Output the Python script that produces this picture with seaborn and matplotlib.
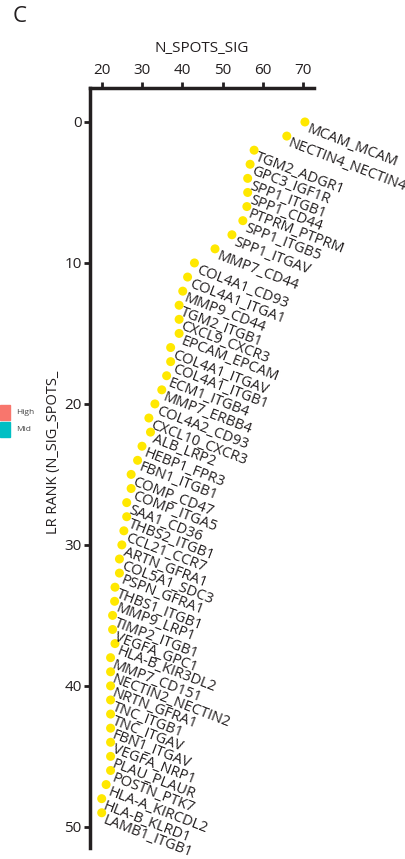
import pandas as pd
import matplotlib.pyplot as plt
import seaborn as sns
import numpy as np

sns.set_theme(style="white")
plt.rcParams['font.family'] = ['Open Sans', 'DejaVu Sans']

# LR pairs, in rank order
lr_pairs = [
    'MCAM_MCAM', 'NECTIN4_NECTIN4', 'TGM2_ADGR1', 'GPC3_IGF1R', 'SPP1_ITGB1',
    'SPP1_CD44', 'PTPRM_PTPRM', 'SPP1_ITGB5', 'SPP1_ITGAV', 'MMP7_CD44',
    'COL4A1_CD93', 'COL4A1_ITGA1', 'MMP9_CD44', 'TGM2_ITGB1', 'CXCL9_CXCR3',
    'EPCAM_EPCAM', 'COL4A1_ITGAV', 'COL4A1_ITGB1', 'ECM1_ITGB4', 'MMP7_ERBB4',
    'COL4A2_CD93', 'CXCL10_CXCR3', 'ALB_LRP2', 'HEBP1_FPR3', 'FBN1_ITGB1',
    'COMP_CD47', 'COMP_ITGA5', 'SAA1_CD36', 'THBS2_ITGB1', 'CCL21_CCR7',
    'ARTN_GFRA1', 'COL5A1_SDC3', 'PSPN_GFRA1', 'THBS1_ITGB1', 'MMP9_LRP1',
    'TIMP2_ITGB1', 'VEGFA_GPC1', 'HLA-B_KIR3DL2', 'MMP7_CD151', 'NECTIN2_NECTIN2',
    'NRTN_GFRA1', 'TNC_ITGB1', 'TNC_ITGAV', 'FBN1_ITGAV', 'VEGFA_NRP1',
    'PLAU_PLAUR', 'POSTN_PTK7', 'HLA-A_KIRCDL2', 'HLA-B_KLRD1', 'LAMB1_ITGB1',
]
n_spots_sig = [
    70.4, 65.9, 57.8, 56.8, 56.2, 56.2, 56.0, 55.0, 52.3, 48.1,
    43.0, 41.3, 40.1, 39.2, 39.2, 39.2, 37.1, 37.1, 36.1, 34.9,
    33.2, 31.7, 32.1, 30.0, 28.9, 27.3, 27.3, 26.2, 26.2, 25.5,
    25.0, 24.4, 24.4, 23.3, 23.2, 22.7, 22.7, 23.3, 22.2, 22.2,
    22.2, 22.2, 22.2, 22.2, 22.2, 22.2, 22.2, 21.1, 20.0, 20.0,
]
lr_rank = list(range(len(lr_pairs)))

legend_labels = ['High', 'Mid']
legend_colors = ['#F8766D', '#00BFC4']

df = pd.DataFrame({'lr': lr_pairs, 'N_SPOTS_SIG': n_spots_sig, 'rank': lr_rank})

W, H = 406, 859
fig = plt.figure(figsize=(W / 100, H / 100), dpi=100)
ax = fig.add_axes([90 / W, 1 - 848 / H, (314 - 90) / W, (848 - 88) / H])

sns.scatterplot(data=df, x='N_SPOTS_SIG', y='rank', color='#FFE800',
                s=42, edgecolor='none', ax=ax, zorder=3)

for _, row in df.iterrows():
    ax.annotate(row['lr'], xy=(row['N_SPOTS_SIG'], row['rank']),
                xytext=(3.5, 0), textcoords='offset points',
                ha='left', va='top', rotation=-21, rotation_mode='anchor',
                fontsize=10.5, color='#231f20', annotation_clip=False)

ax.set_xlim(17.1, 72.65)
ax.set_ylim(51.5, -2.41)
ax.set_xticks([20, 30, 40, 50, 60, 70])
ax.set_yticks([0, 10, 20, 30, 40, 50])

ax.xaxis.tick_top()
ax.xaxis.set_label_position('top')
ax.set_xlabel('N_SPOTS_SIG', fontsize=11, color='#231f20', labelpad=8)
ax.set_ylabel('')

for side in ['right', 'bottom']:
    ax.spines[side].set_visible(False)
for side in ['left', 'top']:
    ax.spines[side].set_linewidth(2.5)
    ax.spines[side].set_color('#231f20')

ax.tick_params(axis='both', length=4, width=2, color='#231f20',
               labelsize=11, labelcolor='#231f20', direction='out')
ax.tick_params(axis='x', top=True, bottom=False, pad=3)
ax.tick_params(axis='y', left=True, pad=2)
ax.grid(False)

# truncated y label, as in the figure
fig.text(54 / W, 1 - 452 / H, 'LR RANK (N_SIG_SPOTS_', rotation=90,
         ha='center', va='center', fontsize=10.5, color='#231f20')

# panel letter
fig.text(13 / W, 1 - 17 / H, 'C', ha='left', va='center', fontsize=16,
         color='#231f20')

# clipped legend on the left edge
for i, (lab, col) in enumerate(zip(legend_labels, legend_colors)):
    y0 = 405 + i * 17
    fig.patches.append(plt.Rectangle((0, 1 - (y0 + 15) / H), 10 / W, 15 / H,
                                     transform=fig.transFigure, color=col))
    fig.text(16 / W, 1 - (y0 + 7.5) / H, lab, ha='left', va='center',
             fontsize=6, color='#444444')

fig.savefig('out.png', dpi=100)
